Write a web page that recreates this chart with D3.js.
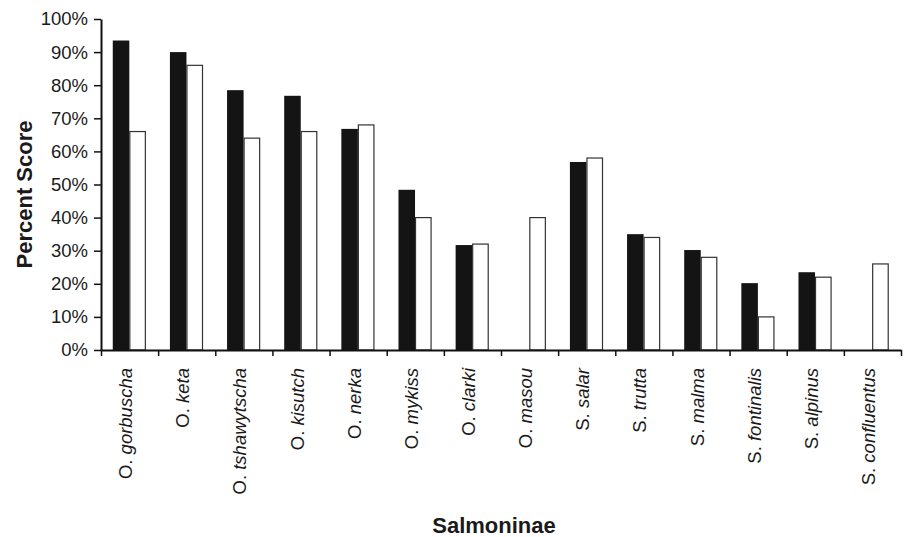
<!DOCTYPE html>
<html>
<head>
<meta charset="utf-8">
<script src="https://cdn.jsdelivr.net/npm/d3@7"></script>
<style>
  body { margin: 0; background: #fff; }
  text { font-family: "Liberation Sans", Arial, sans-serif; fill: #1a1a1a; }
</style>
</head>
<body>
<svg id="chart"></svg>
<script>
const species = [
  "O. gorbuscha", "O. keta", "O. tshawytscha", "O. kisutch", "O. nerka",
  "O. mykiss", "O. clarki", "O. masou", "S. salar", "S. trutta",
  "S. malma", "S. fontinalis", "S. alpinus", "S. confluentus"
];
const blackScores = [93.5, 90, 78.5, 76.8, 66.8, 48.4, 31.7, null, 56.8, 35, 30.2, 20.2, 23.5, null];
const whiteScores = [66, 86, 64, 66, 68, 40, 32, 40, 58, 34, 28, 10, 22, 26];
const yTicks = [0, 10, 20, 30, 40, 50, 60, 70, 80, 90, 100];

const margin = { top: 19, right: 3, bottom: 187, left: 101 };
const fullW = 904, fullH = 537;
const width = fullW - margin.left - margin.right;
const height = fullH - margin.top - margin.bottom;

const svg = d3.select("#chart").attr("width", fullW).attr("height", fullH);
const g = svg.append("g").attr("transform", `translate(${margin.left},${margin.top})`);

const x = d3.scaleBand().domain(species).range([0, width]).padding(0);
const xEdge = d3.scaleLinear().domain([0, species.length]).range([0, width]);
const xSeries = d3.scaleBand().domain(["black", "white"])
  .range([x.bandwidth() * 0.206, x.bandwidth() * 0.785]).padding(0);
const y = d3.scaleLinear().domain([0, 100]).range([height, 0]);

const rows = species.map((s, i) => ({ name: s, black: blackScores[i], white: whiteScores[i] }));

const groups = g.selectAll("g.cat").data(rows).join("g")
  .attr("class", "cat")
  .attr("transform", d => `translate(${x(d.name)},0)`);

groups.filter(d => d.black != null).append("rect")
  .attr("x", xSeries("black"))
  .attr("y", d => y(d.black))
  .attr("width", xSeries.bandwidth())
  .attr("height", d => height - y(d.black))
  .attr("fill", "#141414");

groups.append("rect")
  .attr("x", xSeries("white") + 0.5)
  .attr("y", d => y(d.white))
  .attr("width", xSeries.bandwidth() - 1)
  .attr("height", d => height - y(d.white))
  .attr("fill", "#fff")
  .attr("stroke", "#333")
  .attr("stroke-width", 1.2);

// y axis
const yAxis = g.append("g")
  .call(d3.axisLeft(y).tickValues(yTicks).tickSize(7).tickSizeOuter(0).tickPadding(6)
    .tickFormat(d => d + "%"));
yAxis.select(".domain").attr("stroke", "#111").attr("stroke-width", 2);
yAxis.selectAll(".tick line").attr("stroke", "#111").attr("stroke-width", 1.5);
yAxis.selectAll(".tick text").attr("font-size", 18.5).attr("fill", "#1a1a1a")
  .attr("font-family", "Liberation Sans, Arial, sans-serif");

// x axis with ticks at category edges
const xAxis = g.append("g").attr("transform", `translate(0,${height})`)
  .call(d3.axisBottom(xEdge).tickValues(d3.range(species.length + 1)).tickSize(6)
    .tickSizeOuter(0).tickFormat(""));
xAxis.select(".domain").attr("stroke", "#111").attr("stroke-width", 2);
xAxis.selectAll(".tick line").attr("stroke", "#111").attr("stroke-width", 1.5);

const labels = g.append("g").selectAll("text").data(species).join("text")
  .attr("transform", d => `translate(${x(d) + x.bandwidth() / 2 + 2.5},${height + 18}) rotate(-90)`)
  .attr("text-anchor", "end")
  .attr("font-size", 18.5);
labels.append("tspan").text(d => d.split(" ")[0] + " ");
labels.append("tspan").attr("font-style", "italic").text(d => d.split(" ").slice(1).join(" "));

// axis titles
svg.append("text")
  .attr("transform", `translate(32,${margin.top + height / 2 + 10}) rotate(-90)`)
  .attr("text-anchor", "middle")
  .attr("font-weight", "bold")
  .attr("font-size", 22)
  .text("Percent Score");

svg.append("text")
  .attr("x", 494)
  .attr("y", 533)
  .attr("text-anchor", "middle")
  .attr("font-weight", "bold")
  .attr("font-size", 22)
  .text("Salmoninae");
</script>
</body>
</html>
